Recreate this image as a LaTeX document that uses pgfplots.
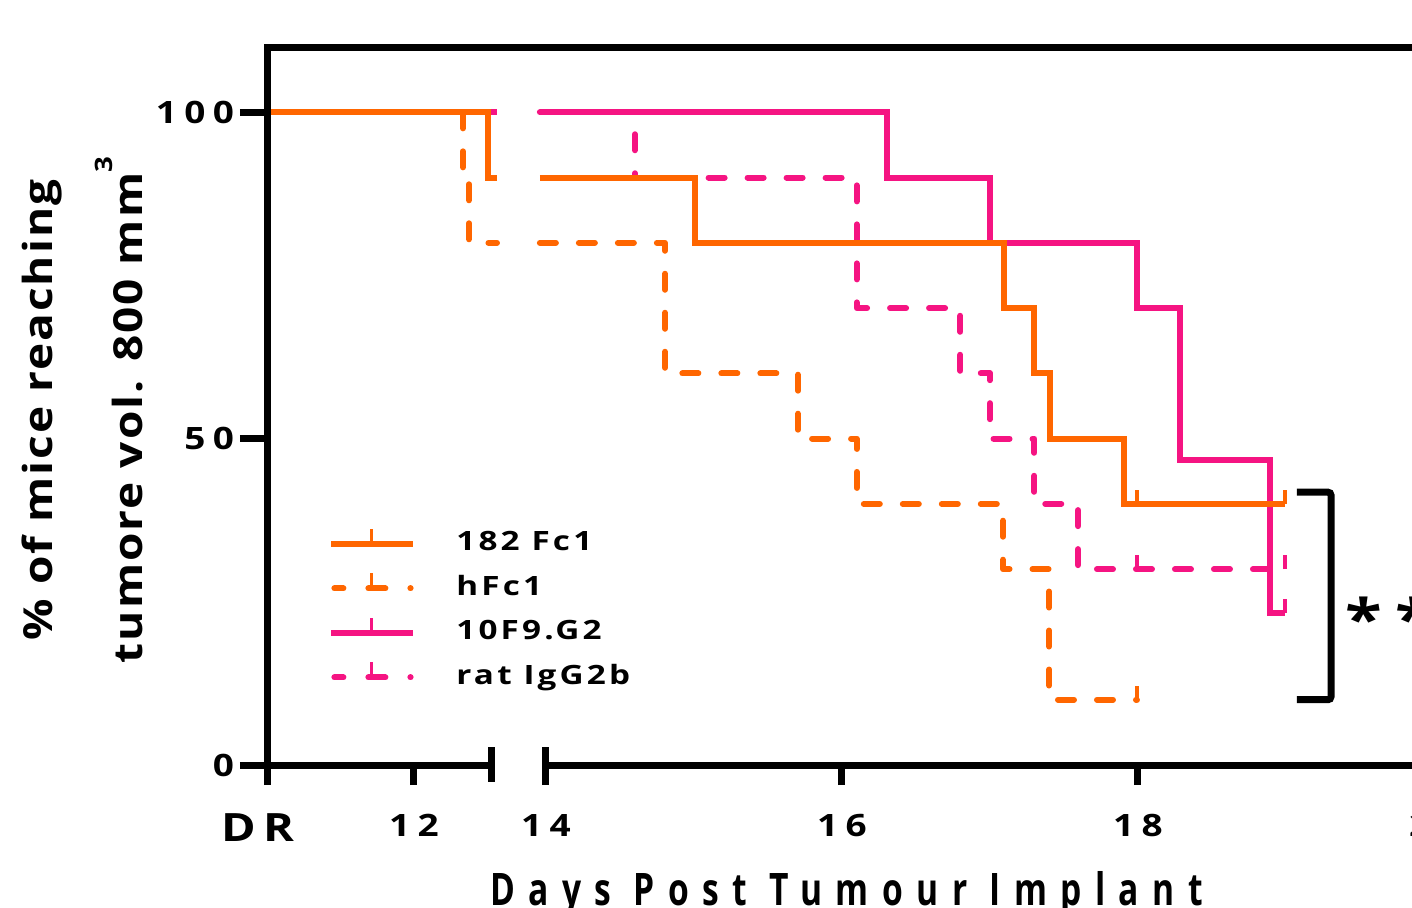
\documentclass[border=0pt]{standalone}
\usepackage{fontspec}
\usepackage{pgfplots}
\pgfplotsset{compat=1.18}
\setmainfont{Open Sans}
\newfontfamily\tkf{Open Sans}[FakeStretch=1.2,LetterSpace=24]
\newfontfamily\lgf{Open Sans}[FakeStretch=1.25,LetterSpace=12]
\newfontfamily\ylf{Open Sans}[FakeStretch=1.15,LetterSpace=5]
\newfontfamily\xlf{Open Sans}[FakeStretch=0.75,LetterSpace=30]
\definecolor{kor}{RGB}{255,102,0}
\definecolor{kpk}{RGB}{245,20,130}
\pgfdeclareplotmark{cens}{\pgfpathmoveto{\pgfpointorigin}\pgfpathlineto{\pgfpoint{0pt}{7pt}}\pgfusepathqstroke}
\pgfplotsset{
  solline/.style={line width=3pt, line join=miter, line cap=butt},
  dshline/.style={line width=3pt, dash pattern=on 8pt off 11.5pt, line cap=round, line join=round},
  censm/.style={only marks, mark=cens, mark options={solid, line width=2pt, line cap=butt}},
}
\begin{document}
\begin{tikzpicture}
\begin{axis}[
  scale only axis, width=583pt, height=359pt,
  xmin=12.122, xmax=20, ymin=0, ymax=110,
  clip=false,
  axis lines*=left,
  axis line style={draw=none},
  unbounded coords=jump,
  xtick={12.122,13.108,14,16,18,20},
  xticklabels={{\hspace*{-10pt}\raisebox{-4pt}{\fontsize{19.5}{19}\selectfont D\hspace{4pt}R}},12,14,16,18,20},
  ytick={0,50,100},
  yticklabels={0,50,100},
  tick align=outside,
  major tick length=10pt,
  y tick style={/pgfplots/major tick length=14pt},
  tick style={line width=3.5pt, black, line cap=butt},
  tick label style={font=\tkf\bfseries\fontsize{15.4}{16}\selectfont},
  xticklabel style={anchor=north, yshift=-11pt},
  yticklabel style={anchor=east, xshift=-3.5pt},
  legend style={draw=none, fill=none, at={(axis cs:12.122,0)}, anchor=north west,
    xshift=30pt, yshift=119pt, inner sep=0pt, row sep=7.5pt, column sep=20pt,
    nodes={inner sep=0pt, text height=10pt, text depth=3pt},
    font=\lgf\bfseries\fontsize{13.3}{14}\selectfont},
  legend cell align=left,
]
% legend entries
\addlegendimage{legend image code/.code={
  \draw[kor,line width=3pt] (0pt,0pt) -- (41pt,0pt);
  \draw[kor,line width=1.5pt] (20pt,0pt) -- (20pt,7.5pt);}}
\addlegendentry{182 Fc1}
\addlegendimage{legend image code/.code={
  \draw[kor,line width=3pt,line cap=round] (1.5pt,0pt) -- (6pt,0pt) (18.5pt,0pt) -- (27pt,0pt) (39.5pt,0pt) -- (39.6pt,0pt);
  \draw[kor,line width=1.5pt] (20pt,0pt) -- (20pt,7.5pt);}}
\addlegendentry{hFc1}
\addlegendimage{legend image code/.code={
  \draw[kpk,line width=3pt] (0pt,0pt) -- (41pt,0pt);
  \draw[kpk,line width=1.5pt] (20pt,0pt) -- (20pt,7.5pt);}}
\addlegendentry{10F9.G2}
\addlegendimage{legend image code/.code={
  \draw[kpk,line width=3pt,line cap=round] (1.5pt,0pt) -- (6pt,0pt) (18.5pt,0pt) -- (27pt,0pt) (39.5pt,0pt) -- (39.6pt,0pt);
  \draw[kpk,line width=1.5pt] (20pt,0pt) -- (20pt,7.5pt);}}
\addlegendentry{rat IgG2b}

% rat IgG2b
\addplot[kpk, dshline, forget plot] coordinates {
 (12.122,100) (13.669,100) (13.8,nan) (13.959,100) (14.601,100) (14.601,90) (16.10,90) (16.10,70)
 (16.80,70) (16.80,60) (17.0,60) (17.0,50) (17.30,50) (17.30,40) (17.595,40) (17.595,30) (18.993,30)};
\addplot[kpk, censm, forget plot] coordinates {(17.993,30) (18.993,30)};
% hFc1
\addplot[kor, dshline, forget plot] coordinates {
 (12.122,100) (13.439,100) (13.439,90) (13.48,90) (13.48,80) (13.669,80) (13.8,nan) (13.959,80) (14.804,80)
 (14.804,60) (15.703,60) (15.703,50) (16.10,50) (16.10,40) (17.088,40) (17.088,30) (17.40,30) (17.40,10) (17.993,10)};
\addplot[kor, censm, forget plot] coordinates {(17.993,10)};
% 10F9.G2
\addplot[kpk, solline, forget plot] coordinates {
 (12.122,100) (13.669,100) (13.8,nan) (13.959,100) (16.304,100) (16.304,90) (17.0,90) (17.0,80) (17.993,80)
 (17.993,70) (18.284,70) (18.284,46.7) (18.892,46.7) (18.892,23.3) (18.993,23.3)};
\addplot[kpk, censm, forget plot] coordinates {(18.993,23.3)};
% 182 Fc1
\addplot[kor, solline, forget plot] coordinates {
 (12.122,100) (13.61,100) (13.61,90) (13.669,90) (13.8,nan) (13.959,90) (15.007,90) (15.007,80) (17.095,80)
 (17.095,70) (17.297,70) (17.297,60) (17.405,60) (17.405,50) (17.905,50) (17.905,40) (18.993,40)};
\addplot[kor, censm, forget plot] coordinates {(17.993,40) (18.993,40)};

% axis frame (broken x axis)
\draw[line width=3.5pt, line join=miter] (axis cs:12.122,0) -- (axis cs:12.122,110) -- (axis cs:20,110);
\draw[line width=3.5pt] (axis cs:12.122,0) -- (axis cs:13.635,0);
\draw[line width=3.5pt] (axis cs:14,0) -- (axis cs:20,0);
\draw[line width=3.5pt] ([yshift=9pt]axis cs:13.635,0) -- ([yshift=-8.5pt]axis cs:13.635,0);
\draw[line width=3.5pt] ([yshift=9pt]axis cs:14,0) -- (axis cs:14,0);
% significance bracket
\draw[line width=3.5pt, rounded corners=1.5pt] (axis cs:19.074,41.8) -- (axis cs:19.304,41.8) -- (axis cs:19.304,10) -- (axis cs:19.074,10);
\node[anchor=west, inner sep=0pt, font=\tkf\bfseries\fontsize{28}{28}\selectfont] at (axis cs:19.40,22.5) {**};

% labels
\node[anchor=base, inner sep=0pt, font=\xlf\bfseries\fontsize{22.4}{24}\selectfont] at ([yshift=-70pt]axis cs:16.03,0) {Days Post Tumour Implant};
\node[rotate=90, anchor=base, inner sep=0pt, font=\ylf\bfseries\fontsize{20}{22}\selectfont] at ([xshift=-107.5pt,yshift=-2pt]rel axis cs:0,0.5) {\% of mice reaching};
\node[rotate=90, anchor=base, inner sep=0pt, font=\ylf\bfseries\fontsize{20}{22}\selectfont] at ([xshift=-62.5pt,yshift=-2pt]rel axis cs:0,0.5) {tumore vol. 800 mm\raisebox{0.75em}{\fontsize{12}{12}\selectfont 3}};
\coordinate (O) at (axis cs:12.122,0);
\end{axis}
\pgfresetboundingbox
\path[use as bounding box] ([shift={(-134pt,-71pt)}]O) rectangle ([shift={(572pt,382.5pt)}]O);
\end{tikzpicture}
\end{document}
